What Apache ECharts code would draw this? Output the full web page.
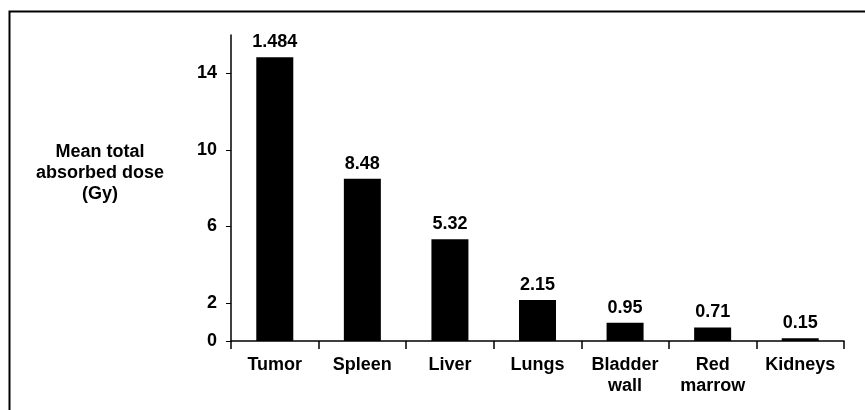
<!DOCTYPE html>
<html>
<head>
<meta charset="utf-8">
<script src="https://cdn.jsdelivr.net/npm/echarts@6/dist/echarts.min.js"></script>
<style>
  html, body { margin: 0; padding: 0; background: #fff; }
  #chart { width: 865px; height: 410px; }
</style>
</head>
<body>
<div id="chart"></div>
<script>
var categories = ['Tumor', 'Spleen', 'Liver', 'Lungs', 'Bladder\nwall', 'Red\nmarrow', 'Kidneys'];
// bar heights
var doseValues = [14.84, 8.48, 5.32, 2.15, 0.95, 0.71, 0.15];
// labels printed above the bars (the original prints "1.484" on the tumor bar)
var doseLabels = ['1.484', '8.48', '5.32', '2.15', '0.95', '0.71', '0.15'];
var yTickValues = [0, 2, 6, 10, 14];

var font = 'Liberation Sans, Arial, sans-serif';
var chart = echarts.init(document.getElementById('chart'));

var option = {
    animation: false,
    backgroundColor: '#fff',
    grid: { left: 231, right: 21, top: 35, bottom: 69 },
    graphic: [
        {
            type: 'polyline',
            shape: { points: [[9.5, 410], [9.5, 11.5], [865, 11.5]] },
            style: { stroke: '#000', lineWidth: 2, fill: null }
        },
        {
            type: 'text',
            x: 100, y: 142,
            style: {
                text: 'Mean total\nabsorbed dose\n(Gy)',
                fontFamily: font, fontWeight: 'bold', fontSize: 18,
                lineHeight: 21, align: 'center', fill: '#000'
            }
        }
    ],
    xAxis: {
        type: 'category',
        data: categories,
        axisLine: { lineStyle: { color: '#000', width: 1.5 } },
        axisTick: { show: true, interval: 0, length: 8, lineStyle: { color: '#000', width: 1.5 } },
        axisLabel: {
            interval: 0,
            color: '#000', fontFamily: font, fontWeight: 'bold',
            fontSize: 18, lineHeight: 21, margin: 14
        }
    },
    yAxis: {
        type: 'value',
        min: 0,
        max: 16,
        interval: 2,
        splitLine: { show: false },
        axisLine: { show: true, lineStyle: { color: '#000', width: 1.5 } },
        axisTick: {
            show: true, length: 5, customValues: yTickValues,
            lineStyle: { color: '#000', width: 1 }
        },
        axisLabel: {
            customValues: yTickValues,
            color: '#000', fontFamily: font, fontWeight: 'bold',
            fontSize: 18, margin: 14
        }
    },
    series: [
        {
            type: 'bar',
            data: doseValues,
            barWidth: 37,
            itemStyle: { color: '#000' },
            label: {
                show: true,
                position: 'top',
                distance: 6,
                color: '#000',
                fontFamily: font,
                fontWeight: 'bold',
                fontSize: 18,
                formatter: function (p) { return doseLabels[p.dataIndex]; }
            }
        }
    ]
};
chart.setOption(option);
window.onresize = chart.resize;
</script>
</body>
</html>
